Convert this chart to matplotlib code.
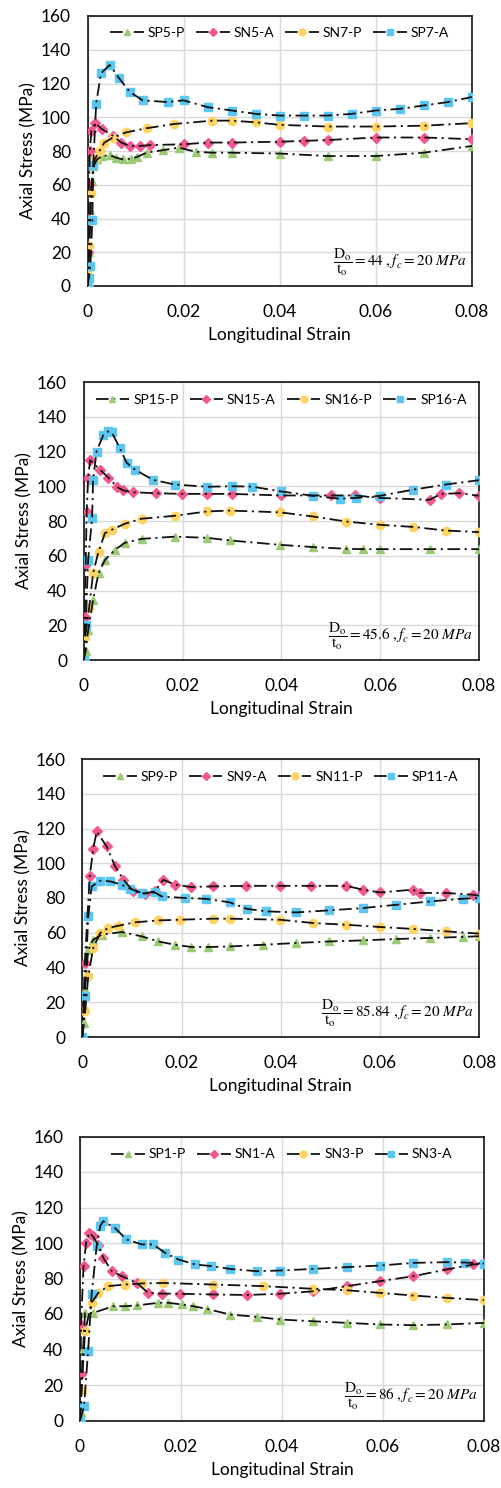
import numpy as np
import matplotlib
matplotlib.use("Agg")
import matplotlib.pyplot as plt
from matplotlib.lines import Line2D

plt.rcParams['font.family'] = ['Lato', 'DejaVu Sans']
plt.rcParams['mathtext.fontset'] = 'stix'

# ---------------- data (strain, stress MPa) ----------------
# panel 1 : D/t = 44
sp5p_x = [0, 0.0003, 0.0006, 0.0009, 0.0012, 0.002, 0.003, 0.0047, 0.006, 0.0074, 0.009, 0.0103, 0.0123,
          0.0157, 0.019, 0.0226, 0.026, 0.03, 0.04, 0.05, 0.06, 0.07, 0.08]
sp5p_y = [0, 20, 45, 62, 71, 75, 77, 77.5, 76, 75, 75.5, 76.5, 79, 80.5, 82, 79.5, 79, 79, 78.5, 77, 77, 79, 83]
sn5a_x = [0, 0.0001, 0.0002, 0.0003, 0.0005, 0.0008, 0.0016, 0.003, 0.0053, 0.007, 0.0088, 0.011, 0.013,
          0.02, 0.025, 0.03, 0.04, 0.045, 0.05, 0.06, 0.07, 0.08]
sn5a_y = [0, 20, 40, 60, 80, 92, 96.5, 93, 89, 85, 83, 83, 83.5, 84, 85, 85, 85.5, 86, 86.5, 88, 88, 87]
sn7p_x = [0, 0.0002, 0.0004, 0.0007, 0.0015, 0.0025, 0.0035, 0.0053, 0.008, 0.0123, 0.018, 0.026, 0.03,
          0.035, 0.04, 0.05, 0.06, 0.07, 0.08]
sn7p_y = [0, 10, 24, 55, 75, 80, 85, 88, 91, 93.5, 96, 98, 98, 97, 95.5, 94.5, 94.5, 95, 96.5]
sp7a_x = [0, 0.0003, 0.0006, 0.001, 0.0012, 0.0018, 0.0028, 0.0046, 0.0066, 0.0088, 0.0115, 0.0167, 0.02,
          0.025, 0.03, 0.035, 0.04, 0.045, 0.05, 0.055, 0.06, 0.065, 0.07, 0.075, 0.08]
sp7a_y = [0, 5, 12, 39, 72, 108, 126, 131, 123, 115, 110, 109, 110, 106, 104, 102, 101, 101, 101, 102, 104,
          105, 107, 109, 112]

# panel 2 : D/t = 45.6
sp15p_x = [0, 0.0004, 0.0009, 0.0019, 0.003, 0.0043, 0.0063, 0.0083, 0.0117, 0.0184, 0.025, 0.0296, 0.0397,
           0.0464, 0.0531, 0.0565, 0.06, 0.07, 0.08]
sp15p_y = [0, 5, 17, 34.6, 50, 57.6, 63.4, 67.4, 69.7, 71, 70.3, 68.8, 66.3, 65, 64, 63.8, 63.8, 63.8, 63.8]
sn15a_x = [0, 0.0002, 0.0004, 0.0006, 0.0009, 0.0013, 0.0033, 0.005, 0.0067, 0.008, 0.01, 0.0147, 0.0198,
           0.025, 0.03, 0.04, 0.05, 0.055, 0.06, 0.07, 0.0723, 0.076, 0.08]
sn15a_y = [0, 25, 55, 85, 105, 115, 109.5, 105, 99.7, 97.6, 96.5, 96, 95.6, 95.6, 95.6, 94.7, 94.7, 94.7,
           93.3, 92.2, 95.6, 96, 94.5]
sn16p_x = [0, 0.0003, 0.0011, 0.0019, 0.003, 0.0043, 0.0057, 0.0083, 0.0117, 0.0184, 0.025, 0.0296, 0.0397,
           0.0464, 0.0531, 0.06, 0.0666, 0.0733, 0.08]
sn16p_y = [0, 13.5, 30, 50, 62.4, 73, 75, 78.4, 81.3, 83, 85.5, 86, 85, 82.6, 79.7, 77.8, 76.6, 74.5, 73.6]
sp16a_x = [0, 0.0004, 0.0009, 0.0017, 0.0019, 0.0026, 0.004, 0.005, 0.0057, 0.0073, 0.0087, 0.0104, 0.014,
           0.0184, 0.025, 0.03, 0.034, 0.04, 0.0464, 0.0518, 0.0552, 0.06, 0.0666, 0.0733, 0.08]
sp16a_y = [0, 20, 57.6, 81.8, 103.7, 120, 129.7, 131.6, 131, 122, 113.5, 109.5, 103.7, 101, 99.7, 100,
           99.8, 97, 94.5, 92.8, 93.3, 94.5, 98, 101, 103.5]

# panel 3 : D/t = 85.84
sp9p_x = [0, 0.0003, 0.0005, 0.0012, 0.0022, 0.0039, 0.0079, 0.012, 0.0153, 0.0187, 0.022, 0.0254, 0.0297,
          0.0364, 0.0431, 0.0498, 0.0565, 0.0633, 0.07, 0.0767, 0.08]
sp9p_y = [0, 8, 27, 50, 56, 58.9, 60.4, 57.9, 55, 53.1, 51.8, 51.8, 52.1, 53.1, 54.1, 55, 55.6, 56.4, 57,
          57.6, 58]
sn9a_x = [0, 0.0002, 0.0005, 0.0015, 0.0022, 0.0029, 0.0049, 0.0066, 0.0083, 0.0103, 0.0126, 0.0146,
          0.0163, 0.0187, 0.022, 0.0264, 0.033, 0.0398, 0.046, 0.0532, 0.0565, 0.06, 0.0666, 0.068, 0.0733,
          0.0787, 0.08]
sn9a_y = [0, 15.7, 42.6, 92.4, 108.4, 118.3, 109.7, 98.2, 90.5, 83.8, 82.5, 83.8, 90.5, 87.7, 86.3, 86.7,
          87, 87, 87, 87, 84.8, 83.2, 84.8, 82.9, 82.9, 81.9, 81.3]
sn11p_x = [0, 0.0006, 0.0012, 0.0022, 0.0036, 0.0052, 0.0072, 0.0106, 0.0153, 0.0197, 0.0264, 0.0297,
           0.0398, 0.0465, 0.0532, 0.06, 0.0666, 0.0733, 0.08]
sn11p_y = [0, 15, 34.9, 51.2, 59.9, 62.7, 64, 66, 67.1, 67.5, 68.1, 68.1, 67.5, 65.6, 64.6, 63.3, 62.2,
           60.8, 59.5]
sp11a_x = [0, 0.0005, 0.0012, 0.0019, 0.0036, 0.0056, 0.0079, 0.0096, 0.012, 0.0146, 0.016, 0.0207, 0.025,
           0.0297, 0.0331, 0.0371, 0.0431, 0.0498, 0.0565, 0.0633, 0.07, 0.0767, 0.08]
sp11a_y = [0, 23.4, 69.4, 86.7, 90, 89.6, 87.7, 85.4, 82.9, 83.2, 80.9, 80, 79.5, 77.5, 73.8, 72.3, 71.7,
           72.9, 74.2, 76.1, 78, 79.6, 80]

# panel 4 : D/t = 86
sp1p_x = [0, 0.0001, 0.0003, 0.0006, 0.001, 0.0026, 0.0066, 0.0089, 0.0112, 0.0155, 0.0175, 0.0201,
          0.0224, 0.0251, 0.0297, 0.035, 0.0396, 0.0462, 0.0528, 0.0594, 0.066, 0.0726, 0.08]
sp1p_y = [0, 5, 18, 40, 60.6, 60.6, 64.4, 64.4, 64.8, 66.3, 66.3, 65.4, 64.4, 62.9, 59.7, 58.4, 56.9, 55.9,
          55, 54.1, 53.7, 54.1, 55]
sn1a_x = [0, 0.0001, 0.0002, 0.0007, 0.0012, 0.0018, 0.0025, 0.0036, 0.0046, 0.0063, 0.0083, 0.0112,
          0.0135, 0.0162, 0.0198, 0.0264, 0.033, 0.0396, 0.0462, 0.0528, 0.0594, 0.066, 0.0726, 0.0779, 0.08]
sn1a_y = [0, 26, 54, 87, 100, 105.7, 104, 99, 91.6, 84.1, 81.3, 77.6, 71.9, 71.5, 71.4, 71, 70.7, 71.4,
          72.8, 75.7, 78.5, 81.3, 85.1, 87.9, 88.5]
sn3p_x = [0, 0.0003, 0.001, 0.0023, 0.0036, 0.0056, 0.0089, 0.0122, 0.0165, 0.0264, 0.0363, 0.0462,
          0.0528, 0.0594, 0.066, 0.0726, 0.08]
sn3p_y = [0, 17, 50.3, 66.3, 71.9, 75.7, 76.6, 77.2, 77.5, 76.6, 75.7, 74.2, 73.4, 71.9, 70.4, 69.1, 67.8]
sn3a_x = [0, 0.0008, 0.0016, 0.0023, 0.0033, 0.004, 0.0046, 0.0069, 0.0092, 0.0122, 0.0145, 0.0168,
          0.0195, 0.0228, 0.026, 0.0297, 0.035, 0.0396, 0.0462, 0.0528, 0.0594, 0.066, 0.0726, 0.0763, 0.08]
sn3a_y = [0, 8, 39, 71, 98.2, 109.5, 112.3, 108.5, 102, 99.2, 99.2, 94.5, 90.7, 87.9, 87, 85.4, 84.1, 84.5,
          85.4, 86.4, 87.3, 88.8, 89.2, 89, 88.3]

panels = [
    ([('SP5-P', sp5p_x, sp5p_y), ('SN5-A', sn5a_x, sn5a_y), ('SN7-P', sn7p_x, sn7p_y), ('SP7-A', sp7a_x, sp7a_y)], '44'),
    ([('SP15-P', sp15p_x, sp15p_y), ('SN15-A', sn15a_x, sn15a_y), ('SN16-P', sn16p_x, sn16p_y), ('SP16-A', sp16a_x, sp16a_y)], '45.6'),
    ([('SP9-P', sp9p_x, sp9p_y), ('SN9-A', sn9a_x, sn9a_y), ('SN11-P', sn11p_x, sn11p_y), ('SP11-A', sp11a_x, sp11a_y)], '85.84'),
    ([('SP1-P', sp1p_x, sp1p_y), ('SN1-A', sn1a_x, sn1a_y), ('SN3-P', sn3p_x, sn3p_y), ('SN3-A', sn3a_x, sn3a_y)], '86'),
]

colors = ['#9ACB74', '#F2588F', '#FFD363', '#5CC6F0']
markers = ['^', 'D', 'o', 's']
msizes = [6, 5, 6, 6]
dashdot = (0, (7, 2.5, 1.2, 2.5))

# axes boxes in pixels: left, right, top, bottom
boxes = [(87.5, 472, 16, 286), (83.7, 479, 382, 660), (82.3, 479.3, 759, 1037), (80, 484, 1136.5, 1420.5)]
W, H = 502, 1488

fig = plt.figure(figsize=(W / 100, H / 100), dpi=100)

for (series, dt), (l, r, t, b) in zip(panels, boxes):
    ax = fig.add_axes([l / W, 1 - b / H, (r - l) / W, (b - t) / H])
    handles = []
    for i, (name, x, y) in enumerate(series):
        ax.plot(x, y, ls='none', marker=markers[i], color=colors[i], ms=msizes[i], zorder=3)
        ax.plot(x, y, color='#111111', ls=dashdot, lw=1.3, zorder=4)
        handles.append(Line2D([], [], color='#111111', ls=dashdot, lw=1.3, marker=markers[i],
                              mfc=colors[i], mec=colors[i], ms=msizes[i] - 1))
    ax.set_xlim(0, 0.08)
    ax.set_ylim(0, 160)
    ax.set_xticks([0, 0.02, 0.04, 0.06, 0.08])
    ax.set_xticklabels(['0', '0.02', '0.04', '0.06', '0.08'])
    ax.set_yticks(np.arange(0, 161, 20))
    ax.grid(True, color='#D9D9D9', lw=1)
    ax.set_axisbelow(True)
    for s in ax.spines.values():
        s.set_color('black')
        s.set_linewidth(1.1)
    ax.tick_params(length=0, labelsize=12.5, pad=13)
    ax.tick_params(axis='y', pad=12)
    ax.set_xlabel('Longitudinal Strain', fontsize=12.5, labelpad=5)
    ax.set_ylabel('Axial Stress (MPa)', fontsize=12.5, labelpad=3)
    ax.legend(handles=handles, labels=[s[0] for s in series], loc='center',
              bbox_to_anchor=(0.5, 0.937), ncol=4, frameon=False, fontsize=10,
              handlelength=2.4, handletextpad=0.3, columnspacing=0.8)
    ax.text(0.985, 0.03, r'$\dfrac{\mathrm{D_o}}{\mathrm{t_o}} = ' + dt + r'\ ,f_c = 20\ MPa$',
            transform=ax.transAxes, ha='right', va='bottom', fontsize=11)

fig.savefig('out.png', dpi=100)
